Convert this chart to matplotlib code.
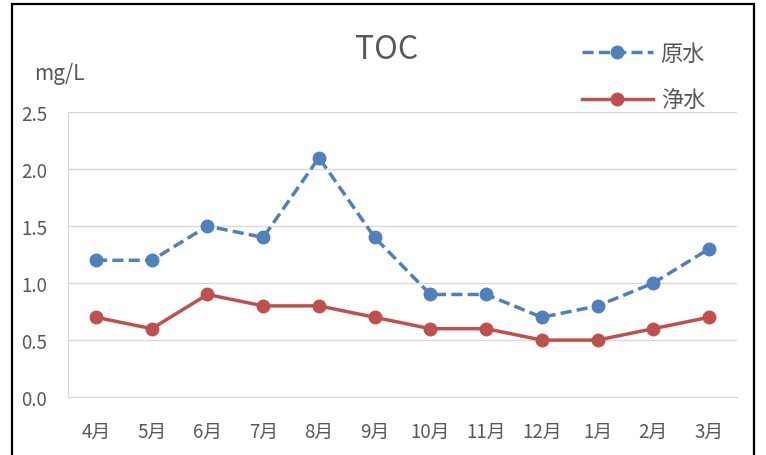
import matplotlib.pyplot as plt
from matplotlib.patches import Rectangle

plt.rcParams['font.family'] = ['Noto Sans CJK JP', 'DejaVu Sans']

months = ['4月', '5月', '6月', '7月', '8月', '9月', '10月', '11月', '12月', '1月', '2月', '3月']
raw_water = [1.2, 1.2, 1.5, 1.4, 2.1, 1.4, 0.9, 0.9, 0.7, 0.8, 1.0, 1.3]
clean_water = [0.7, 0.6, 0.9, 0.8, 0.8, 0.7, 0.6, 0.6, 0.5, 0.5, 0.6, 0.7]
y_ticks = [0.0, 0.5, 1.0, 1.5, 2.0, 2.5]

text_col = '#595959'
grid_col = '#d9d9d9'

fig = plt.figure(figsize=(7.66, 4.56), dpi=100)
ax = fig.add_axes([0.089, 0.127, 0.873, 0.625])

x = range(len(months))
ax.plot(x, raw_water, color='#4f81bd', lw=2.5, ls=(0, (3.2, 1.5)),
        marker='o', ms=9, label='原水')
ax.plot(x, clean_water, color='#c0504d', lw=2.5,
        marker='o', ms=9, label='浄水')

ax.set_xlim(-0.5, len(months) - 0.5)
ax.set_ylim(0, 2.5)
ax.set_yticks(y_ticks)
ax.set_yticklabels(['%.1f' % v for v in y_ticks])
ax.set_xticks(list(x))
ax.set_xticklabels(months)
ax.tick_params(axis='both', length=0, labelsize=13.5, colors=text_col)
ax.tick_params(axis='x', pad=17)
ax.tick_params(axis='y', pad=15)

ax.grid(axis='y', color=grid_col, lw=1)
ax.set_axisbelow(True)
for side in ['top', 'right']:
    ax.spines[side].set_visible(False)
ax.spines['bottom'].set_color(grid_col)
ax.spines['left'].set_color(grid_col)

fig.text(0.505, 0.890, 'TOC', ha='center', va='center', fontsize=23, color=text_col)
fig.text(0.044, 0.838, 'mg/L', ha='left', va='center', fontsize=15, color=text_col)

leg = fig.legend(loc='upper left', bbox_to_anchor=(0.745, 0.93), frameon=False,
                 fontsize=16, labelspacing=1.05, handlelength=3.2, handletextpad=0.35,
                 borderpad=0)
for t in leg.get_texts():
    t.set_color(text_col)

fig.patches.append(Rectangle((0.0157, -0.05), 0.969, 1.039, transform=fig.transFigure,
                             fill=False, ec='black', lw=1.6))

fig.savefig('out.png', dpi=100)
